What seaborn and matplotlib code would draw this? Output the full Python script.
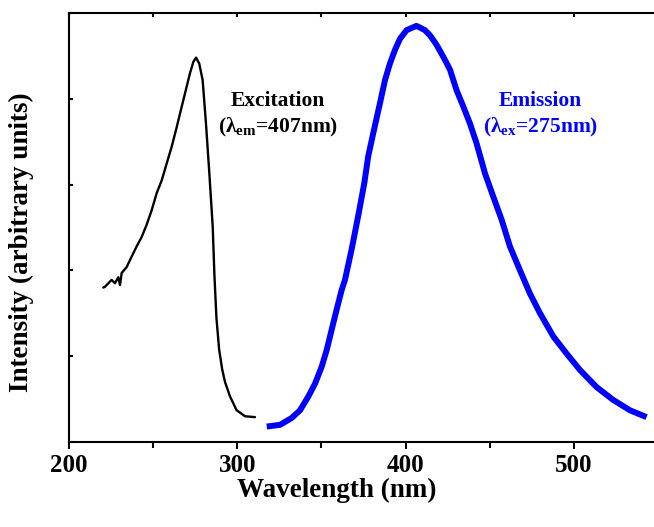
import matplotlib
matplotlib.use("Agg")
import matplotlib.pyplot as plt
import seaborn as sns
import pandas as pd

# Excitation spectrum (lambda_em = 407 nm)
exc_wl = [220.4, 221.4, 223.4, 225.3, 227.3, 229.3, 230.3, 231.3, 234.3, 237.2, 240.2, 243.2,
          246.1, 249.1, 252.1, 255.1, 258.1, 261.0, 264.0, 267.0, 269.9, 271.9, 273.9, 275.5,
          277.4, 279.4, 281.4, 283.4, 285.4, 286.4, 287.6, 289.2, 291.0, 292.7, 295.7, 299.6,
          304.6, 310.5]
exc_int = [1.80, 1.81, 1.85, 1.89, 1.85, 1.92, 1.83, 1.97, 2.04, 2.16, 2.28, 2.39,
           2.53, 2.70, 2.90, 3.05, 3.25, 3.44, 3.67, 3.91, 4.14, 4.30, 4.43, 4.48,
           4.41, 4.22, 3.71, 3.13, 2.51, 1.95, 1.45, 1.08, 0.85, 0.70, 0.53, 0.37,
           0.30, 0.29]

# Emission spectrum (lambda_ex = 275 nm)
emi_wl = [317.5, 325.4, 332.3, 337.3, 342.2, 346.2, 350.2, 353.1, 356.1, 359.0, 362.0, 364.0,
          368.0, 372.0, 375.5, 377.8, 380.8, 384.8, 387.8, 390.7, 393.7, 396.7, 400.6, 406.5,
          411.5, 414.5, 418.4, 422.4, 426.4, 430.3, 434.3, 438.3, 442.2, 447.2, 452.1, 457.1,
          462.0, 468.0, 473.9, 479.9, 487.8, 495.7, 503.6, 513.5, 523.4, 533.3, 543.2]
emi_int = [0.18, 0.20, 0.28, 0.37, 0.53, 0.68, 0.88, 1.07, 1.31, 1.54, 1.77, 1.89,
           2.25, 2.65, 3.02, 3.33, 3.60, 3.95, 4.22, 4.41, 4.57, 4.70, 4.80, 4.85,
           4.80, 4.74, 4.63, 4.49, 4.34, 4.10, 3.91, 3.71, 3.48, 3.13, 2.86, 2.59,
           2.28, 2.00, 1.73, 1.50, 1.23, 1.03, 0.84, 0.64, 0.49, 0.37, 0.29]

x_ticks = [200, 300, 400, 500]

sns.set_style("ticks")
plt.rcParams['font.family'] = ['Liberation Serif', 'DejaVu Serif']
plt.rcParams['font.weight'] = 'bold'
plt.rcParams['text.color'] = 'black'
plt.rcParams['axes.labelcolor'] = 'black'
plt.rcParams['xtick.color'] = 'black'
plt.rcParams['ytick.color'] = 'black'
plt.rcParams['mathtext.fontset'] = 'custom'
plt.rcParams['mathtext.rm'] = 'Liberation Serif:bold'
plt.rcParams['mathtext.it'] = 'Liberation Serif:bold'
plt.rcParams['mathtext.bf'] = 'Liberation Serif:bold'

exc_df = pd.DataFrame({"Wavelength": exc_wl, "Intensity": exc_int})
emi_df = pd.DataFrame({"Wavelength": emi_wl, "Intensity": emi_int})

fig = plt.figure(figsize=(6.54, 5.27), dpi=100)
ax = fig.add_axes([69/654, 85/527, (658-69)/654, (442-13)/527])

sns.lineplot(data=exc_df, x="Wavelength", y="Intensity", ax=ax, color="black", lw=1.7,
             solid_joinstyle='round', solid_capstyle='round')
sns.lineplot(data=emi_df, x="Wavelength", y="Intensity", ax=ax, color="#0000ff", lw=4.3,
             solid_joinstyle='round', solid_capstyle='butt')

ax.set_xlim(200, 550)
ax.set_ylim(0, 5)
ax.set_xticks(x_ticks)
ax.set_xticks([250, 350, 450, 550], minor=True)
ax.set_yticks([0, 1, 2, 3, 4, 5])
ax.set_yticklabels([])

for s in ["left", "bottom", "top", "right"]:
    ax.spines[s].set_visible(True)
    ax.spines[s].set_linewidth(1.5)
    ax.spines[s].set_color("black")

ax.tick_params(axis='x', which='major', direction='out', length=5, width=1.5,
               labelsize=18, pad=4, top=True, labeltop=False, colors='black')
ax.tick_params(axis='x', which='minor', direction='out', length=4, width=1.5, top=True)
ax.tick_params(axis='y', which='major', direction='in', length=3, width=1.5, left=True)
for t in ax.xaxis.get_major_ticks() + ax.xaxis.get_minor_ticks():
    t.tick2line.set_marker(3)
    t.tick2line.set_markersize(3)

for lbl in ax.get_xticklabels():
    lbl.set_fontweight('bold')
    lbl.set_color('black')

ax.set_xlabel("Wavelength (nm)", fontsize=19.5, fontweight='bold', color='black')
ax.set_ylabel("Intensity (arbitrary units)", fontsize=19.5, fontweight='bold', color='black')
ax.xaxis.set_label_coords(0.455, -0.112)
ax.xaxis.label.set_va('center')
ax.yaxis.set_label_coords(-0.080, 0.466)
ax.yaxis.label.set_va('center')
ax.yaxis.label.set_ha('center')

ax.text(324.2, 3.97, "Excitation", ha='center', va='center', fontsize=15.5, fontweight='bold', color='black')
ax.text(324.2, 3.67, "(λ$_{\\mathrm{em}}$=407nm)", ha='center', va='center', fontsize=15.5, fontweight='bold', color='black')
ax.text(480.0, 3.97, "Emission", ha='center', va='center', fontsize=15.5, fontweight='bold', color='#0000ff')
ax.text(480.0, 3.67, "(λ$_{\\mathrm{ex}}$=275nm)", ha='center', va='center', fontsize=15.5, fontweight='bold', color='#0000ff')

fig.savefig("out.png", dpi=100)
